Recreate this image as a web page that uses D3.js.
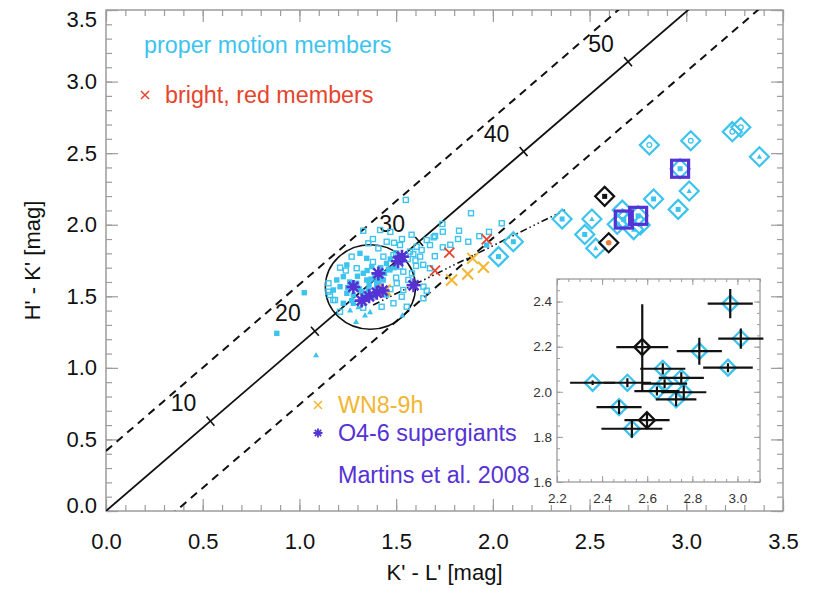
<!DOCTYPE html>
<html>
<head>
<meta charset="utf-8">
<script src="https://cdn.jsdelivr.net/npm/d3@7"></script>
<style>
  body { margin: 0; background: #fff; }
  text { font-family: "Liberation Sans", Arial, Helvetica, sans-serif; }
</style>
</head>
<body>
<svg id="chart" width="816" height="589"></svg>
<script>
// proper motion members (K'-L', H'-K', symbol: s open square, f filled square, t triangle)
const pmX = [1.550,1.887,1.330,1.739,1.825,1.741,2.046,1.694,1.658,1.675,1.741,1.873,1.968,1.606,1.632,1.589,1.624,1.675,1.603,1.582,
  1.563,1.537,1.641,1.658,1.529,1.641,1.555,1.532,1.339,1.262,1.293,1.184,1.158,1.025,0.883,1.086,1.356,1.451,1.489,1.520,
  1.408,1.313,1.270,1.348,1.434,1.486,1.572,1.701,1.245,1.296,1.374,1.330,1.227,1.468,1.520,1.434,1.348,1.296,1.210,1.175,
  1.150,1.245,1.279,1.322,1.356,1.400,1.503,1.537,1.175,1.227,1.279,1.330,1.382,1.451,1.210,1.305,1.365,1.425,1.486,1.150,
  1.193,1.417,1.390,1.420,1.450,1.470,1.360,1.310,1.260,1.400,1.440,1.500,1.380,1.270,1.330,1.240,1.210,1.470,1.500,1.560,
  1.600,1.640,1.700,1.780,1.820,1.930,1.980,1.530,1.580,1.470,1.380,1.350,1.420,1.460,1.300,1.250,1.330,1.410,1.370,1.490];
const pmY = [2.173,2.080,1.958,2.005,1.958,1.951,2.010,1.912,1.893,1.858,1.842,1.881,1.858,1.846,1.823,1.795,1.777,1.696,1.712,1.660,
  1.614,1.672,1.567,1.539,1.497,1.486,1.427,1.369,1.369,1.404,1.323,1.474,1.509,1.525,1.241,1.090,1.870,1.881,1.874,1.858,
  1.835,1.800,1.777,1.765,1.777,1.788,1.812,1.921,1.719,1.696,1.707,1.661,1.637,1.684,1.707,1.614,1.614,1.591,1.567,1.544,
  1.532,1.521,1.509,1.532,1.544,1.567,1.591,1.544,1.474,1.451,1.451,1.474,1.497,1.509,1.392,1.427,1.392,1.427,1.451,1.591,
  1.614,1.963,1.640,1.700,1.730,1.760,1.580,1.550,1.600,1.600,1.660,1.800,1.740,1.470,1.420,1.680,1.700,1.550,1.630,1.760,
  1.750,1.720,1.780,1.860,1.900,1.920,1.950,1.900,1.930,1.950,1.900,1.680,1.620,1.690,1.640,1.560,1.500,1.580,1.620,1.700];
const pmSym = ["s","s","s","s","s","s","s","s","s","s","s","s","f","s","s","s","s","s","s","s",
  "s","s","s","s","s","s","s","t","t","t","t","s","s","f","f","t","s","s","s","s",
  "s","f","s","f","s","s","s","s","f","s","f","f","f","f","s","f","f","f","f","f",
  "s","f","f","f","f","f","s","s","s","f","f","f","f","f","s","t","t","s","s","s",
  "f","s","f","f","f","f","f","f","f","f","f","s","s","f","s","s","s","s","s","s",
  "s","s","s","s","s","s","s","s","s","s","s","f","f","f","f","f","f","f","f","f"];

// bright, red members
const redX = [1.775,1.968,1.701];
const redY = [1.805,1.898,1.679];

// WN8-9h
const wnX = [1.443,1.896,1.787,1.870,1.951];
const wnY = [1.544,1.765,1.614,1.656,1.703];

// O4-6 supergiants
const oX = [1.530,1.510,1.408,1.279,1.590,1.322,1.360,1.400,1.430];
const oY = [1.777,1.745,1.660,1.565,1.577,1.470,1.500,1.525,1.540];

// stars shown in the inset, with errors (c cyan, k black, p boxed in purple)
const msX = [2.358,2.512,2.475,2.532,2.578,2.599,2.669,2.677,2.643,2.751,2.762,2.728,2.831,2.968,3.015,2.958];
const msY = [2.040,2.040,1.932,1.836,2.198,1.874,2.102,2.036,2.003,2.062,1.998,1.966,2.180,2.391,2.236,2.107];
const msXerr = [0.10,0.105,0.10,0.135,0.115,0.10,0.10,0.10,0.10,0.10,0.10,0.09,0.10,0.10,0.10,0.11];
const msYerr = [0.01,0.02,0.03,0.04,0.19,0.035,0.025,0.02,0.02,0.025,0.03,0.03,0.06,0.065,0.045,0.02];
const msKind = ["c","c","c","c","k","k","c","p","c","p","c","c","c","p","c","c"];
const msInner = ["f","t","f","t","k","r","t","f","f","f","t","t","f","f","t","f"];

// other diamonds in the main panel
const dX = [2.029,2.106,2.809,3.023,3.238,3.282,3.378];
const dY = [1.777,1.881,2.557,2.587,2.650,2.681,2.475];
const dInner = ["f","f","o","o","o","o","t"];

// reddening vector with A_K marks
const slope = 1.163;
const bandOffset = 0.42;
const akLabels = [10,20,30,40,50];
const akX = [0.540,1.080,1.619,2.159,2.699];

const xTicks = [0,0.5,1,1.5,2,2.5,3,3.5];
const yTicks = [0,0.5,1,1.5,2,2.5,3,3.5];
const insetXTicks = [2.2,2.4,2.6,2.8,3.0];
const insetYTicks = [1.6,1.8,2.0,2.2,2.4];

const cyan = "#3cc4ee", red = "#e5452d", orange = "#f2b632", purple = "#5532d4", gray = "#9c9c9c";

const svg = d3.select("#chart");
svg.append("rect").attr("width", 816).attr("height", 589).attr("fill", "#fff");

let x = d3.scaleLinear().domain([0, 3.5]).range([106, 783]);
let y = d3.scaleLinear().domain([0, 3.5]).range([511, 10]);

svg.append("clipPath").attr("id", "plotclip")
  .append("rect")
  .attr("x", x(0)).attr("y", y(3.5))
  .attr("width", x(3.5) - x(0)).attr("height", y(0) - y(3.5));

function diamond(cx, cy, r) {
  return `M${cx},${cy - r}L${cx + r},${cy}L${cx},${cy + r}L${cx - r},${cy}Z`;
}
function xmark(cx, cy, r) {
  return `M${cx - r},${cy - r}L${cx + r},${cy + r}M${cx - r},${cy + r}L${cx + r},${cy - r}`;
}
function asterisk(cx, cy, r) {
  let d = "";
  for (let k = 0; k < 4; k++) {
    let a = k * Math.PI / 4;
    let dx = r * Math.cos(a), dy = r * Math.sin(a);
    d += `M${cx - dx},${cy - dy}L${cx + dx},${cy + dy}`;
  }
  return d;
}
function triangle(cx, cy, r) {
  return `M${cx},${cy - r}L${cx + r},${cy + r * 0.8}L${cx - r},${cy + r * 0.8}Z`;
}

// axes (ticks inward, IDL style)
function styleAxis(g) {
  g.select(".domain").remove();
  g.selectAll(".tick line").attr("stroke", gray).attr("stroke-width", 1.2);
  g.selectAll(".tick text").attr("font-size", 22).attr("fill", "#111");
}
const minor = d3.range(0, 3.501, 0.1);

svg.append("g").attr("transform", `translate(0,${y(0)})`)
  .call(d3.axisBottom(x).tickValues(minor).tickSize(-6).tickFormat(""))
  .call(styleAxis);
svg.append("g").attr("transform", `translate(0,${y(0)})`)
  .call(d3.axisBottom(x).tickValues(xTicks).tickSize(-12).tickPadding(22).tickFormat(d3.format(".1f")))
  .call(styleAxis);
svg.append("g").attr("transform", `translate(0,${y(3.5)})`)
  .call(d3.axisTop(x).tickValues(minor).tickSize(-6).tickFormat(""))
  .call(styleAxis);
svg.append("g").attr("transform", `translate(0,${y(3.5)})`)
  .call(d3.axisTop(x).tickValues(xTicks).tickSize(-12).tickFormat(""))
  .call(styleAxis);
svg.append("g").attr("transform", `translate(${x(0)},0)`)
  .call(d3.axisLeft(y).tickValues(minor).tickSize(-6).tickFormat(""))
  .call(styleAxis);
let yAxisG = svg.append("g").attr("transform", `translate(${x(0)},0)`)
  .call(d3.axisLeft(y).tickValues(yTicks).tickSize(-12).tickPadding(9).tickFormat(d3.format(".1f")))
  .call(styleAxis);
yAxisG.selectAll(".tick text")
  .attr("transform", (d) => (d === 3.5 ? "translate(0,9)" : d === 0 ? "translate(0,-6)" : null));
svg.append("g").attr("transform", `translate(${x(3.5)},0)`)
  .call(d3.axisRight(y).tickValues(minor).tickSize(-6).tickFormat(""))
  .call(styleAxis);
svg.append("g").attr("transform", `translate(${x(3.5)},0)`)
  .call(d3.axisRight(y).tickValues(yTicks).tickSize(-12).tickFormat(""))
  .call(styleAxis);

svg.append("rect")
  .attr("x", x(0)).attr("y", y(3.5))
  .attr("width", x(3.5) - x(0)).attr("height", y(0) - y(3.5))
  .attr("fill", "none").attr("stroke", gray).attr("stroke-width", 1.5);

svg.append("text")
  .attr("x", (x(0) + x(3.5)) / 2).attr("y", 580)
  .attr("text-anchor", "middle").attr("font-size", 22).attr("fill", "#111")
  .text("K' - L' [mag]");
svg.append("text")
  .attr("transform", `translate(40,${(y(0) + y(3.5)) / 2}) rotate(-90)`)
  .attr("text-anchor", "middle").attr("font-size", 22).attr("fill", "#111")
  .text("H' - K' [mag]");

// reddening band
const plot = svg.append("g").attr("clip-path", "url(#plotclip)");
let line = d3.line().x((d) => x(d[0])).y((d) => y(d[1]));
plot.append("path")
  .attr("d", line([[0, 0], [3.5, 3.5 * slope]]))
  .attr("fill", "none").attr("stroke", "#111").attr("stroke-width", 1.8);
[bandOffset, -bandOffset].forEach((b) => {
  plot.append("path")
    .attr("d", line([[0, b], [3.5, 3.5 * slope + b]]))
    .attr("fill", "none").attr("stroke", "#111").attr("stroke-width", 2)
    .attr("stroke-dasharray", "8,6");
});

// A_K marks on the vector
let vx = x(1) - x(0), vy = y(slope) - y(0);
let vl = Math.hypot(vx, vy);
let px = -vy / vl, py = vx / vl;
akX.forEach((ax, i) => {
  let cx = x(ax), cy = y(ax * slope);
  svg.append("path")
    .attr("d", `M${cx - px * 6},${cy - py * 6}L${cx + px * 6},${cy + py * 6}`)
    .attr("stroke", "#111").attr("stroke-width", 1.6);
  svg.append("text")
    .attr("x", cx - 27).attr("y", cy - 18).attr("dy", "0.35em")
    .attr("text-anchor", "middle").attr("font-size", 23).attr("fill", "#111")
    .text(akLabels[i]);
});

// circle around the cluster
const circC = [1.367, 1.565], circR = [0.233, 0.295];
svg.append("ellipse")
  .attr("cx", x(circC[0])).attr("cy", y(circC[1]))
  .attr("rx", x(circC[0] + circR[0]) - x(circC[0]))
  .attr("ry", y(circC[1]) - y(circC[1] + circR[1]))
  .attr("fill", "none").attr("stroke", "#111").attr("stroke-width", 1.5);

// dash-dot-dot-dot line
const ddStart = [1.381, 1.439], ddEnd = [2.373, 2.103];
svg.append("path")
  .attr("d", line([ddStart, ddEnd]))
  .attr("fill", "none").attr("stroke", "#111").attr("stroke-width", 1.6)
  .attr("stroke-dasharray", "7,3,1.5,3,1.5,3,1.5,3");

// proper motion members
const pm = svg.append("g");
pmX.forEach((vxv, i) => {
  let cx = x(vxv), cy = y(pmY[i]), s = pmSym[i];
  if (s === "t") {
    pm.append("path").attr("d", triangle(cx, cy, 3)).attr("fill", cyan);
  } else if (s === "f") {
    pm.append("rect").attr("x", cx - 2.7).attr("y", cy - 2.7).attr("width", 5.4).attr("height", 5.4).attr("fill", cyan);
  } else {
    pm.append("rect").attr("x", cx - 2.5).attr("y", cy - 2.5).attr("width", 5).attr("height", 5)
      .attr("fill", "none").attr("stroke", cyan).attr("stroke-width", 1.4);
  }
});

// red members, WN stars, O supergiants
redX.forEach((v, i) => {
  svg.append("path").attr("d", xmark(x(v), y(redY[i]), 5))
    .attr("stroke", red).attr("stroke-width", 1.8).attr("fill", "none");
});
wnX.forEach((v, i) => {
  svg.append("path").attr("d", xmark(x(v), y(wnY[i]), 5.5))
    .attr("stroke", orange).attr("stroke-width", 2).attr("fill", "none");
});
oX.forEach((v, i) => {
  svg.append("path").attr("d", asterisk(x(v), y(oY[i]), 7))
    .attr("stroke", purple).attr("stroke-width", 2.6).attr("fill", "none");
});

// diamonds in main panel
function innerMark(g, cx, cy, kind) {
  if (kind === "t") g.append("path").attr("d", triangle(cx, cy, 2.6)).attr("fill", cyan);
  else if (kind === "o") g.append("circle").attr("cx", cx).attr("cy", cy).attr("r", 2.4)
    .attr("fill", "none").attr("stroke", cyan).attr("stroke-width", 1.2);
  else if (kind === "k") g.append("rect").attr("x", cx - 2.5).attr("y", cy - 2.5).attr("width", 5).attr("height", 5).attr("fill", "#111");
  else if (kind === "r") g.append("circle").attr("cx", cx).attr("cy", cy).attr("r", 2.8).attr("fill", "#f07a3a");
  else g.append("rect").attr("x", cx - 2.5).attr("y", cy - 2.5).attr("width", 5).attr("height", 5).attr("fill", cyan);
}
const dm = svg.append("g");
dX.forEach((v, i) => {
  let cx = x(v), cy = y(dY[i]);
  dm.append("path").attr("d", diamond(cx, cy, 9.5)).attr("fill", "none").attr("stroke", cyan).attr("stroke-width", 2.2);
  innerMark(dm, cx, cy, dInner[i]);
});
msX.forEach((v, i) => {
  let cx = x(v), cy = y(msY[i]);
  dm.append("path").attr("d", diamond(cx, cy, 9.5)).attr("fill", "none")
    .attr("stroke", msKind[i] === "k" ? "#111" : cyan).attr("stroke-width", 2.2);
  innerMark(dm, cx, cy, msInner[i]);
});
msX.forEach((v, i) => {
  if (msKind[i] !== "p") return;
  let cx = x(v), cy = y(msY[i]);
  dm.append("rect").attr("x", cx - 8.5).attr("y", cy - 8.5).attr("width", 17).attr("height", 17)
    .attr("fill", "none").attr("stroke", purple).attr("stroke-width", 3.2);
});

// legend
svg.append("text").attr("x", 144).attr("y", 45).attr("dy", "0.35em")
  .attr("font-size", 23.3).attr("fill", cyan).text("proper motion members");
svg.append("path").attr("d", xmark(145, 95, 4)).attr("stroke", red).attr("stroke-width", 1.5);
svg.append("text").attr("x", 165).attr("y", 95).attr("dy", "0.35em")
  .attr("font-size", 23.3).attr("fill", red).text("bright, red members");
svg.append("path").attr("d", xmark(318, 405, 4)).attr("stroke", orange).attr("stroke-width", 1.5);
svg.append("text").attr("x", 338).attr("y", 405).attr("dy", "0.35em")
  .attr("font-size", 23.3).attr("fill", orange).text("WN8-9h");
svg.append("path").attr("d", asterisk(318, 433, 4.5)).attr("stroke", purple).attr("stroke-width", 1.8);
svg.append("text").attr("x", 338).attr("y", 433).attr("dy", "0.35em")
  .attr("font-size", 23.3).attr("fill", purple).text("O4-6 supergiants");
svg.append("text").attr("x", 338).attr("y", 475).attr("dy", "0.35em")
  .attr("font-size", 23.3).attr("fill", purple).text("Martins et al. 2008");

// inset
let ix = d3.scaleLinear().domain([2.2, 3.1]).range([557, 760]);
let iy = d3.scaleLinear().domain([1.6, 2.5]).range([482, 279]);
const inset = svg.append("g");
inset.append("rect")
  .attr("x", ix(2.2)).attr("y", iy(2.5))
  .attr("width", ix(3.1) - ix(2.2)).attr("height", iy(1.6) - iy(2.5))
  .attr("fill", "#fff");

function styleInset(g) {
  g.select(".domain").remove();
  g.selectAll(".tick line").attr("stroke", gray).attr("stroke-width", 1);
  g.selectAll(".tick text").attr("font-size", 13.5).attr("fill", "#333");
}
const iMinorX = d3.range(2.2, 3.101, 0.05);
const iMinorY = d3.range(1.6, 2.501, 0.05);
inset.append("g").attr("transform", `translate(0,${iy(1.6)})`)
  .call(d3.axisBottom(ix).tickValues(iMinorX).tickSize(-3).tickFormat("")).call(styleInset);
inset.append("g").attr("transform", `translate(0,${iy(1.6)})`)
  .call(d3.axisBottom(ix).tickValues(insetXTicks).tickSize(-6).tickPadding(11).tickFormat(d3.format(".1f"))).call(styleInset);
inset.append("g").attr("transform", `translate(0,${iy(2.5)})`)
  .call(d3.axisTop(ix).tickValues(iMinorX).tickSize(-3).tickFormat("")).call(styleInset);
inset.append("g").attr("transform", `translate(0,${iy(2.5)})`)
  .call(d3.axisTop(ix).tickValues(insetXTicks).tickSize(-6).tickFormat("")).call(styleInset);
inset.append("g").attr("transform", `translate(${ix(2.2)},0)`)
  .call(d3.axisLeft(iy).tickValues(iMinorY).tickSize(-3).tickFormat("")).call(styleInset);
inset.append("g").attr("transform", `translate(${ix(2.2)},0)`)
  .call(d3.axisLeft(iy).tickValues(insetYTicks).tickSize(-6).tickPadding(5).tickFormat(d3.format(".1f"))).call(styleInset);
inset.append("g").attr("transform", `translate(${ix(3.1)},0)`)
  .call(d3.axisRight(iy).tickValues(iMinorY).tickSize(-3).tickFormat("")).call(styleInset);
inset.append("g").attr("transform", `translate(${ix(3.1)},0)`)
  .call(d3.axisRight(iy).tickValues(insetYTicks).tickSize(-6).tickFormat("")).call(styleInset);
inset.append("rect")
  .attr("x", ix(2.2)).attr("y", iy(2.5))
  .attr("width", ix(3.1) - ix(2.2)).attr("height", iy(1.6) - iy(2.5))
  .attr("fill", "none").attr("stroke", gray).attr("stroke-width", 1.3);

msX.forEach((v, i) => {
  let cx = ix(v), cy = iy(msY[i]);
  inset.append("path").attr("d", diamond(cx, cy, 8)).attr("fill", "none")
    .attr("stroke", msKind[i] === "k" ? "#111" : cyan).attr("stroke-width", 2.3);
});
msX.forEach((v, i) => {
  inset.append("path")
    .attr("d", `M${ix(v - msXerr[i])},${iy(msY[i])}L${ix(v + msXerr[i])},${iy(msY[i])}` +
      `M${ix(v)},${iy(msY[i] - msYerr[i])}L${ix(v)},${iy(msY[i] + msYerr[i])}`)
    .attr("stroke", "#111").attr("stroke-width", 2.2).attr("fill", "none");
});
</script>
</body>
</html>
